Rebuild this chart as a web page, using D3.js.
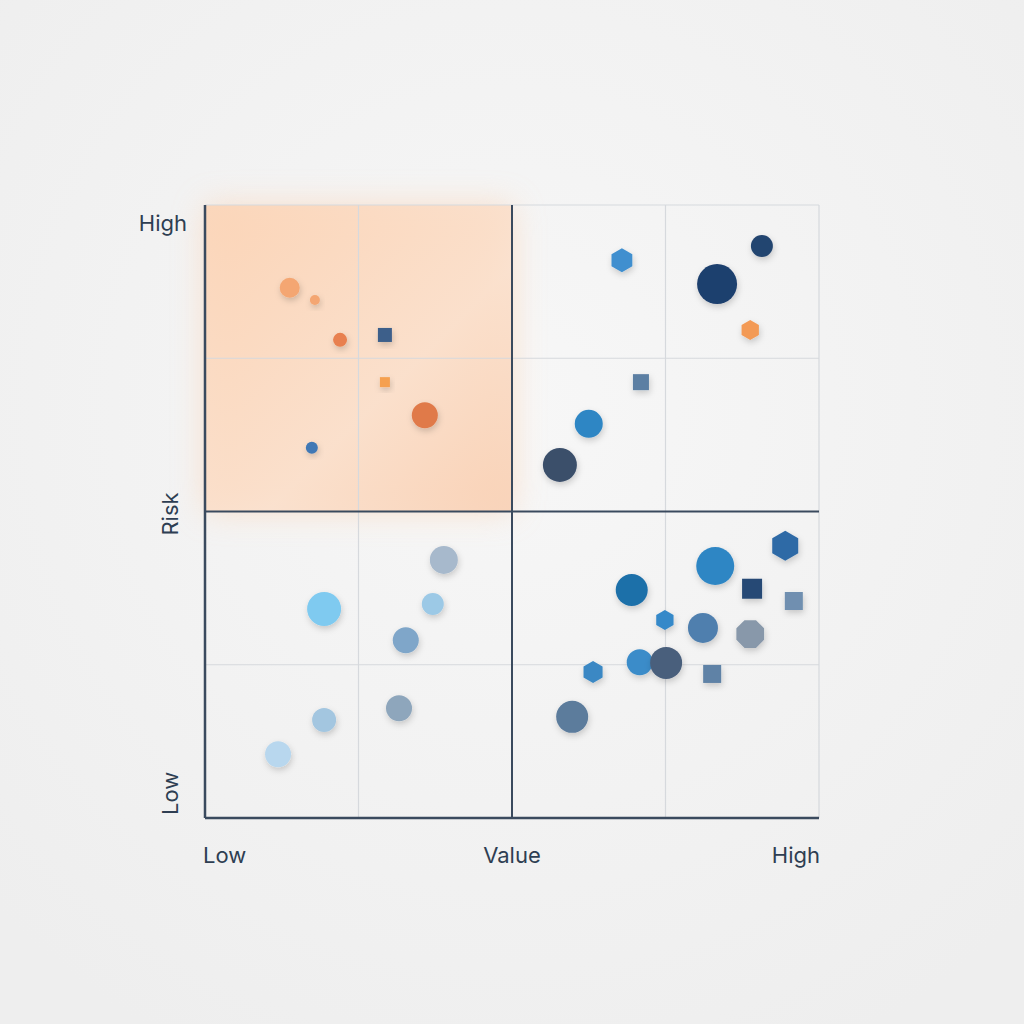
<!DOCTYPE html><html><head><meta charset="utf-8">
<script src="https://cdn.jsdelivr.net/npm/d3@7"></script>
<style>body{margin:0;background:#f2f2f2;}</style></head><body>
<svg id="c" width="1024" height="1024"></svg>
<script>
const xTickLabels=["Low","Value","High"];
const yTickLabels=["Low","Risk","High"];
const valueX=[13.8,17.9,22,29.3,29.3,35.8,17.4,67.9,83.4,90.7,88.8,71,62.5,57.8,38.9,19.4,37.1,32.7,31.6,19.4,11.9,94.5,83.1,69.5,89.1,95.9,74.9,81.1,88.8,63.2,70.8,75.1,82.6,59.8];
const riskY=[86.5,84.5,78,78.8,71.1,65.7,60.4,91,87.1,93.3,79.6,71.1,64.3,57.6,42.1,34.1,34.9,29,17.9,16,10.4,44.4,41.1,37.2,37.4,35.4,32.3,31,30,23.8,25.4,25.3,23.5,16.5];
const sizes=[10,5,7,7,5,13,6,12,20,11,10,8,14,17,14,17,11,13,13,12,13,15,19,16,10,9,10,15,15,11,13,16,9,16];
const shapes=["c","c","c","s","s","c","c","h","c","c","h","s","c","c","c","c","c","c","c","c","c","h","c","c","s","s","h","c","o","h","c","c","s","c"];
const colors=["#f4a672","#f4a672","#e8804f","#3d5f8a","#f5a04f","#e07a4a","#3f78b5","#3f8fcf","#1f3f6e","#24456f","#f39a55","#5b7fa3","#2f86c4","#3b4f6b","#a7b9cc","#7fcaf0","#9cc9e6","#7fa6c9","#8ea6bc","#a3c6e0","#b8d7ee","#2f6aa6","#2f86c4","#1f6fa9","#264a75","#6f8fb0","#3589c9","#4f7fae","#8898aa","#3a88c4","#3b8cc9","#4a5f7c","#5f82a6","#5b7b9c"];
const svg=d3.select("#c");
const x=d3.scaleLinear().domain([0,100]).range([205,819]);
const y=d3.scaleLinear().domain([0,100]).range([818,205]);
const defs=svg.append("defs");
const bg=defs.append("radialGradient").attr("id","bg").attr("cx","50%").attr("cy","40%").attr("r","70%");
bg.append("stop").attr("offset","0").attr("stop-color","#f7f7f7");
bg.append("stop").attr("offset","1").attr("stop-color","#eeeeee");
svg.append("rect").attr("width",1024).attr("height",1024).attr("fill","url(#bg)");
defs.append("filter").attr("id","glow").attr("x","-30%").attr("y","-30%").attr("width","160%").attr("height","160%")
 .append("feGaussianBlur").attr("stdDeviation",16);
const og=defs.append("linearGradient").attr("id","og").attr("x1","0").attr("y1","0").attr("x2","1").attr("y2","1");
og.append("stop").attr("offset","0").attr("stop-color","#fcd3b4");
og.append("stop").attr("offset","0.6").attr("stop-color","#fbe0cc");
og.append("stop").attr("offset","1").attr("stop-color","#f9cfb2");
svg.append("rect").attr("x",x(0)).attr("y",y(100)).attr("width",x(50)-x(0)).attr("height",y(50)-y(100))
 .attr("fill","#fbd6ba").attr("opacity",0.7).attr("filter","url(#glow)");
svg.append("rect").attr("x",x(0)).attr("y",y(100)).attr("width",x(50)-x(0)).attr("height",y(50)-y(100))
 .attr("fill","url(#og)").attr("opacity",0.85);
[25,75,100].forEach(v=>{
 svg.append("line").attr("x1",x(v)).attr("x2",x(v)).attr("y1",y(0)).attr("y2",y(100)).attr("stroke","#d6d9dd").attr("stroke-width",1.2);
 svg.append("line").attr("y1",y(v)).attr("y2",y(v)).attr("x1",x(0)).attr("x2",x(100)).attr("stroke","#d6d9dd").attr("stroke-width",1.2);
});
svg.append("line").attr("x1",x(50)).attr("x2",x(50)).attr("y1",y(0)).attr("y2",y(100)).attr("stroke","#3a4a5e").attr("stroke-width",2);
svg.append("line").attr("y1",y(50)).attr("y2",y(50)).attr("x1",x(0)).attr("x2",x(100)).attr("stroke","#3a4a5e").attr("stroke-width",2);
svg.append("line").attr("x1",x(0)).attr("x2",x(0)).attr("y1",y(0)).attr("y2",y(100)).attr("stroke","#3a4a5e").attr("stroke-width",2.5);
svg.append("line").attr("x1",x(0)).attr("x2",x(100)).attr("y1",y(0)).attr("y2",y(0)).attr("stroke","#3a4a5e").attr("stroke-width",2.5);
const sh=defs.append("filter").attr("id","sh").attr("x","-50%").attr("y","-50%").attr("width","200%").attr("height","200%");
sh.append("feDropShadow").attr("dx",1).attr("dy",3).attr("stdDeviation",3).attr("flood-color","#000").attr("flood-opacity",0.18);
function poly(n,r,rot){return d3.range(n).map(i=>{const a=rot+i*2*Math.PI/n;return [r*Math.cos(a),r*Math.sin(a)];});}
const g=svg.append("g");
valueX.forEach((vx,i)=>{
 const cx=x(vx),cy=y(riskY[i]),r=sizes[i],s=shapes[i];
 let el;
 if(s==="c") el=g.append("circle").attr("cx",cx).attr("cy",cy).attr("r",r);
 else if(s==="s") el=g.append("rect").attr("x",cx-r).attr("y",cy-r).attr("width",2*r).attr("height",2*r);
 else { const pts=s==="h"?poly(6,r,Math.PI/6):poly(8,r,Math.PI/8);
   el=g.append("polygon").attr("points",pts.map(p=>[cx+p[0],cy+p[1]].join(",")).join(" ")); }
 el.attr("fill",colors[i]).attr("filter","url(#sh)");
});
const tc="#2e3e52",fs=22,ff="Inter,'Open Sans',sans-serif";
const xl=[[203,"start"],[512,"middle"],[820,"end"]];
xTickLabels.forEach((t,i)=>svg.append("text").attr("x",xl[i][0]).attr("y",863).attr("text-anchor",xl[i][1]).attr("font-size",fs).attr("font-family",ff).attr("fill",tc).text(t));
svg.append("text").attr("x",187).attr("y",231).attr("text-anchor","end").attr("font-size",fs).attr("font-family",ff).attr("fill",tc).text(yTickLabels[2]);
[[815,"start",0],[514,"middle",1]].forEach(([yy,a,i])=>svg.append("text").attr("transform",`translate(178,${yy}) rotate(-90)`).attr("text-anchor",a).attr("font-size",fs).attr("font-family",ff).attr("fill",tc).text(yTickLabels[i]));
</script></body></html>
